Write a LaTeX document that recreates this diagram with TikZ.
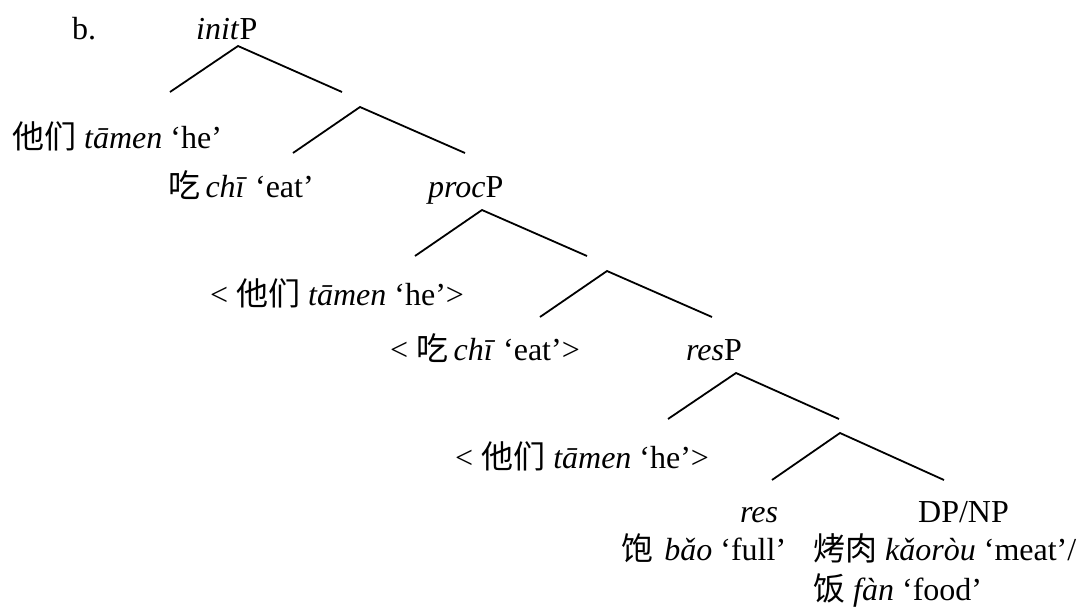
\documentclass[tikz,border=0pt]{standalone}
\usepackage{fontspec}
\setmainfont{Liberation Serif}
\newfontfamily\cjk{Noto Sans CJK SC}
\begin{document}
\begin{tikzpicture}[x=1pt,y=-1pt,
  lbl/.style={inner sep=0pt,anchor=base west,font=\fontsize{32pt}{38pt}\selectfont},
  branch/.style={line width=1.8pt,black}]
\useasboundingbox (0,0) rectangle (1080,606);
% labels
\node[lbl] (b) at (72,39) {b.};
\node[lbl] (initP) at (196,39) {\textit{init}P};
\node[lbl] (spec1) at (12,148) {{\cjk 他们} \textit{tāmen} ‘he’};
\node[lbl] (head1) at (168,197) {{\cjk 吃}\,\textit{chī} ‘eat’};
\node[lbl] (procP) at (428,197) {\textit{proc}P};
\node[lbl] (spec2) at (210,305) {< {\cjk 他们} \textit{tāmen} ‘he’>};
\node[lbl] (head2) at (390,360) {< {\cjk 吃}\,\textit{chī} ‘eat’>};
\node[lbl] (resP) at (686,360) {\textit{res}P};
\node[lbl] (spec3) at (455,468) {< {\cjk 他们} \textit{tāmen} ‘he’>};
\node[lbl] (res) at (740,522) {\textit{res}};
\node[lbl] (dp) at (918,522) {DP/NP};
\node[lbl] (bao) at (621,560) {{\cjk 饱}\hspace{0.35em}\textit{bǎo} ‘full’};
\node[lbl] (meat) at (813,560) {{\cjk 烤肉} \textit{kǎoròu} ‘meat’/};
\node[lbl] (food) at (813,600) {{\cjk 饭} \textit{fàn} ‘food’};
% branch points
\coordinate (a1) at (238,46);  \coordinate (l1) at (170,92);  \coordinate (r1) at (342,92);
\coordinate (a2) at (360,107); \coordinate (l2) at (293,153); \coordinate (r2) at (465,153);
\coordinate (a3) at (482,210); \coordinate (l3) at (415,256); \coordinate (r3) at (587,256);
\coordinate (a4) at (607,271); \coordinate (l4) at (540,317); \coordinate (r4) at (712,317);
\coordinate (a5) at (736,373); \coordinate (l5) at (668,419); \coordinate (r5) at (839,419);
\coordinate (a6) at (840,433); \coordinate (l6) at (772,480); \coordinate (r6) at (944,480);
\foreach \i in {1,...,6}{
  \draw[branch] (l\i) -- (a\i) -- (r\i);
}
\end{tikzpicture}
\end{document}
